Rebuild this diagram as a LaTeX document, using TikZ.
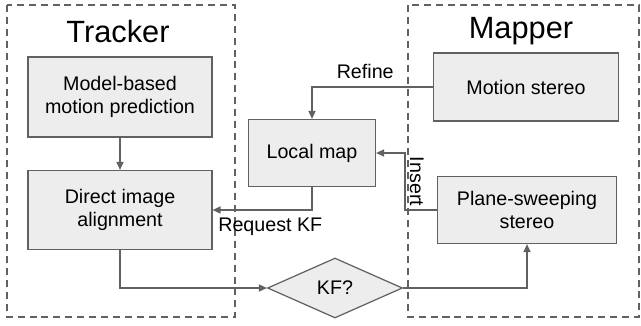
\documentclass[tikz,border=0pt]{standalone}
\usepackage{fontspec}
\setmainfont{Liberation Sans}
\usetikzlibrary{shapes.geometric,arrows.meta,positioning}

\begin{document}
\begin{tikzpicture}[
      x=0.02cm, y=-0.02cm,
      font=\fontsize{11.2}{13.4}\selectfont,
      block/.style={
        draw=black!62,
        fill=black!7,
        line width=0.7pt,
        align=center,
        inner sep=0pt
      },
      decision/.style={
        block,
        diamond,
        aspect=2.25,
        minimum width=2.7cm,
        minimum height=1.2cm
      },
      thread/.style={
        draw=black!62,
        line width=0.6pt,
        dash pattern=on 4pt off 2.8pt
      },
      title/.style={font=\fontsize{17.5}{20}\selectfont},
      arr/.style={-{Triangle[length=4.5pt, width=4pt]}, draw=black!62, line width=0.7pt}
    ]
    \useasboundingbox (0,0) rectangle (641,325);

    % tracker and mapper threads
    \draw[thread] (7,5) rectangle (235,317);
    \draw[thread] (408,5) rectangle (639,317);
    \node[title] (tracker) at (118,32) {Tracker};
    \node[title] (mapper) at (521,31) {Mapper};

    \node[block, minimum width=3.68cm, minimum height=1.6cm] (predict) at (120,97)
    {Model-based\\motion prediction};

    \node[block, minimum width=3.68cm, minimum height=1.58cm] (align) at (120,210)
    {Direct image\\alignment};

    \node[block, minimum width=2.54cm, minimum height=1.34cm] (localmap) at (312,153)
    {Local map};

    \node[block, minimum width=3.7cm, minimum height=1.36cm] (motion) at (526,87)
    {Motion stereo};

    \node[block, minimum width=3.58cm, minimum height=1.34cm] (sweep) at (527,210)
    {Plane-sweeping\\stereo};

    \node[decision] (kf) at (335,288) {KF?};

    \draw[arr] (predict) -- (align);
    \draw[arr] (motion.west) -| node[pos=0.28, above=1pt] {Refine} (localmap.north);
    \draw[arr] (sweep.west) -- ++(-32,0) |- node[pos=0.25, rotate=-90, anchor=south, inner sep=2.5pt]
      {Insert} (localmap.east);
    \draw[arr] (localmap.south) |- node[pos=0.71, below=1pt] {Request KF} (align.east);
    \draw[arr] (align.south) |- (kf.west);
    \draw[arr] (kf.east) -| (sweep.south);
    \end{tikzpicture}
\end{document}
